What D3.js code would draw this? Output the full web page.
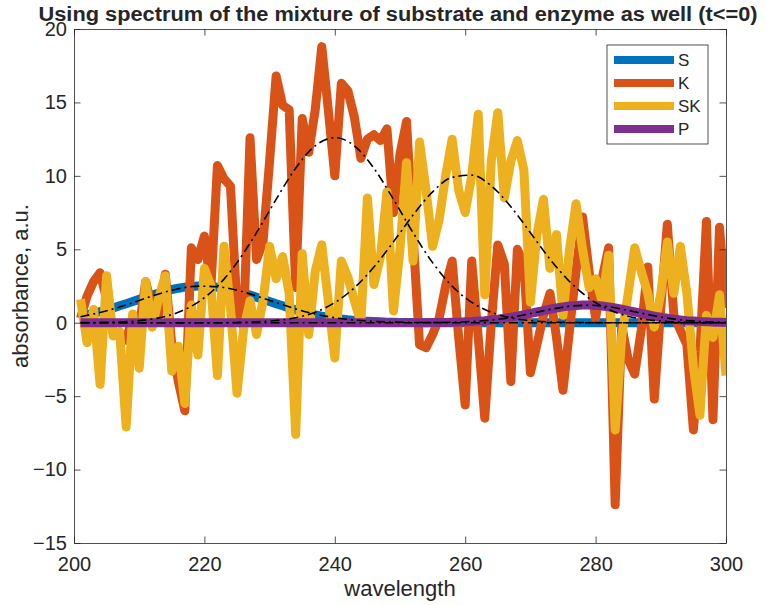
<!DOCTYPE html>
<html>
<head>
<meta charset="utf-8">
<script src="https://cdn.jsdelivr.net/npm/d3@7"></script>
<style>
  html, body { margin: 0; padding: 0; background: #ffffff; }
  svg { display: block; }
  text { font-family: 'Liberation Sans', Arial, Helvetica, sans-serif; fill: #262626; }
</style>
</head>
<body>
<div id="chart"></div>
<script>
// sample grid of the measured spectra (nm)
const wavelength = d3.range(201, 301);

// S: substrate spectrum (smooth)
const sValues = [
  0.45, 0.54, 0.64, 0.75, 0.87, 1.00, 1.15, 1.29, 1.44, 1.59,
  1.74, 1.89, 2.02, 2.15, 2.26, 2.35, 2.42, 2.47, 2.50, 2.50,
  2.47, 2.42, 2.35, 2.26, 2.15, 2.02, 1.89, 1.74, 1.59, 1.44,
  1.29, 1.15, 1.00, 0.87, 0.75, 0.64, 0.54, 0.45, 0.37, 0.31,
  0.25, 0.20, 0.16, 0.12, 0.10, 0.08, 0.06, 0.04, 0.03, 0.02,
  0.02, 0.01, 0.01, 0, 0, 0, 0, 0, 0, 0,
  0, 0, 0, 0, 0, 0, 0, 0, 0, 0,
  0, 0, 0, 0, 0, 0, 0, 0, 0, 0,
  0, 0, 0, 0, 0, 0, 0, 0, 0, 0,
  0, 0, 0, 0, 0, 0, 0, 0, 0, 0
];

// K: enzyme spectrum (noisy)
const kValues = [
  0.3, 1.8, 2.8, 3.4, 1.6, -0.7, -0.9, -1.2, 0.4, -0.3,
  2.8, 1.0, 0.5, 3.3, -1.5, -4.0, -6.0, 5.1, 4.3, 5.9,
  2.4, 10.7, 9.8, 9.3, 1.0, -0.3, 12.6, 4.3, 5.5, 11.0,
  16.8, 14.8, 14.5, 2.4, 13.9, 11.6, 14.5, 18.8, 14.5, 10.0,
  16.3, 15.8, 14.0, 11.2, 12.5, 12.8, 12.4, 13.2, 7.5, 11.5,
  13.7, 6.0, -1.5, -1.7, -0.8, 0.3, 2.5, 4.2, -1.0, -5.6,
  4.2, -1.0, -6.5, 0.0, 5.3, 4.0, -4.0, 5.0, 4.0, -3.4,
  -1.5, 0.5, 2.0, -1.0, -4.6, -0.5, 3.5, 7.2, 3.5, 0.3,
  3.0, 5.1, -12.4, -0.2, -2.5, -3.5, -0.5, 3.8, -5.2, 1.0,
  6.7, 0.5, -0.5, -1.5, -7.3, -2.0, 6.9, -6.6, 6.5, 1.0
];

// SK: substrate-enzyme complex spectrum (noisy)
const skValues = [
  1.6, -1.35, 0.9, -4.2, 3.2, -0.9, -0.6, -7.1, 0.6, -3.1,
  2.8, -0.3, 1.7, 3.2, -3.3, -1.6, -5.5, 1.2, -2.2, 3.7,
  2.5, -3.6, 5.2, 1.0, -4.8, -0.5, 1.5, -0.8, 1.5, 5.2,
  3.0, 4.5, 2.0, -7.6, 4.7, -0.8, 3.5, 5.3, 1.5, -2.4,
  4.2, 3.1, 1.5, 0.0, 8.5, 2.6, 4.5, 8.9, 0.8, 5.0,
  10.9, 4.2, 12.3, 9.0, 5.2, 7.0, 10.0, 12.5, 9.0, 7.5,
  10.0, 14.2, 1.9, 11.0, 14.3, 8.5, 11.0, 12.4, 10.4, 1.4,
  6.0, 8.4, 3.7, 6.0, 0.5, 5.0, 8.1, 5.0, 2.4, 3.0,
  1.5, 4.6, -7.3, -1.0, 2.0, 5.1, 3.5, 2.0, -0.3, 2.0,
  5.5, 2.0, 5.2, 2.0, -3.0, -6.3, 0.5, -1.0, 1.9, -3.6
];

// P: product spectrum (smooth)
const pValues = [
  0, 0, 0, 0, 0, 0, 0, 0, 0, 0,
  0, 0, 0, 0, 0, 0, 0, 0, 0, 0,
  0, 0, 0, 0, 0, 0, 0, 0, 0, 0,
  0, 0, 0, 0, 0, 0, 0, 0, 0, 0,
  0, 0, 0, 0, 0, 0, 0, 0, 0, 0,
  0, 0, 0, 0, 0.01, 0.01, 0.02, 0.03, 0.04, 0.06,
  0.08, 0.11, 0.14, 0.19, 0.24, 0.30, 0.37, 0.45, 0.54, 0.63,
  0.73, 0.82, 0.92, 1.00, 1.08, 1.14, 1.18, 1.20, 1.20, 1.18,
  1.14, 1.08, 1.00, 0.92, 0.82, 0.73, 0.63, 0.54, 0.45, 0.37,
  0.30, 0.24, 0.19, 0.14, 0.11, 0.08, 0.06, 0.04, 0.03, 0.02
];

// fitted component curves (dash-dot), sampled every 3 nm
const fitWavelength = [201, 204, 207, 210, 213, 216, 219, 222, 225, 228, 231, 234, 237, 240, 243, 246, 249,
  252, 255, 258, 261, 264, 267, 270, 273, 276, 279, 282, 285, 288, 291, 294, 297, 300];
const sFit = [0.41, 0.70, 1.07, 1.52, 1.96, 2.31, 2.49, 2.45, 2.21, 1.82, 1.37, 0.94, 0.59, 0.34, 0.18, 0.09, 0.04,
  0.02, 0.01, 0, 0, 0, 0, 0, 0, 0, 0, 0, 0, 0, 0, 0, 0, 0];
const kFit = [0.01, 0.02, 0.05, 0.14, 0.33, 0.71, 1.39, 2.49, 4.09, 6.13, 8.40, 10.52, 12.05, 12.6, 12.05, 10.52, 8.40,
  6.13, 4.09, 2.49, 1.39, 0.71, 0.33, 0.14, 0.05, 0.02, 0.01, 0, 0, 0, 0, 0, 0, 0];
const skFit = [0, 0, 0, 0, 0, 0, 0, 0, 0.02, 0.06, 0.15, 0.34, 0.72, 1.37, 2.38, 3.79, 5.51,
  7.33, 8.91, 9.90, 10.05, 9.32, 7.90, 6.13, 4.33, 2.81, 1.66, 0.90, 0.44, 0.20, 0.08, 0.03, 0.01, 0];
const pFit = [0, 0, 0, 0, 0, 0, 0, 0, 0, 0, 0, 0, 0, 0, 0, 0, 0,
  0, 0.01, 0.03, 0.08, 0.18, 0.36, 0.62, 0.90, 1.12, 1.19, 1.09, 0.84, 0.56, 0.31, 0.15, 0.06, 0.02];

const seriesNames = ['S', 'K', 'SK', 'P'];
const xTicks = [200, 220, 240, 260, 280, 300];
const yTicks = [-15, -10, -5, 0, 5, 10, 15, 20];

(function () {
  'use strict';

  const width = 767;
  const height = 605;
  const margin = { top: 29, right: 41, bottom: 62, left: 74 };
  const innerWidth = width - margin.left - margin.right;
  const innerHeight = height - margin.top - margin.bottom;

  // MATLAB default line colours
  const colors = ['#0072BD', '#D95319', '#EDB120', '#7E2F8E'];
  const axisColor = '#262626';

  const svg = d3.select('#chart')
    .append('svg')
    .attr('width', width)
    .attr('height', height);

  svg.append('rect')
    .attr('width', width)
    .attr('height', height)
    .attr('fill', '#ffffff');

  const g = svg.append('g')
    .attr('transform', `translate(${margin.left},${margin.top})`);

  // Scales
  const x = d3.scaleLinear().domain([200, 300]).range([0, innerWidth]);
  const y = d3.scaleLinear().domain([-15, 20]).range([innerHeight, 0]);

  g.append('clipPath')
    .attr('id', 'plot-clip')
    .append('rect')
    .attr('width', innerWidth)
    .attr('height', innerHeight);

  const plot = g.append('g').attr('clip-path', 'url(#plot-clip)');

  // Thick data lines
  const dataSeries = [sValues, kValues, skValues, pValues];
  const line = d3.line()
    .x(d => x(d[0]))
    .y(d => y(d[1]));

  dataSeries.forEach((vals, i) => {
    plot.append('path')
      .datum(wavelength.map((w, j) => [w, vals[j]]))
      .attr('fill', 'none')
      .attr('stroke', colors[i])
      .attr('stroke-width', 9)
      .attr('stroke-linejoin', 'round')
      .attr('stroke-linecap', 'butt')
      .attr('d', line);
  });

  // Fitted components, black dash-dot
  const fitLine = d3.line()
    .x(d => x(d[0]))
    .y(d => y(d[1]))
    .curve(d3.curveMonotoneX);

  [sFit, kFit, skFit, pFit].forEach(vals => {
    plot.append('path')
      .datum(fitWavelength.map((w, j) => [w, vals[j]]))
      .attr('fill', 'none')
      .attr('stroke', '#000000')
      .attr('stroke-width', 1.6)
      .attr('stroke-dasharray', '9,4,2,4')
      .attr('d', fitLine);
  });

  // Axes: ticks point inwards on all four sides (box on)
  const styleAxis = sel => {
    sel.select('.domain').attr('stroke', axisColor).attr('stroke-width', 0.8);
    sel.selectAll('.tick line').attr('stroke', axisColor).attr('stroke-width', 0.8);
    sel.selectAll('.tick text')
      .attr('fill', axisColor)
      .attr('font-size', '20px')
      .attr('font-family', "'Liberation Sans', Arial, sans-serif");
  };

  g.append('g')
    .attr('transform', `translate(0,${innerHeight})`)
    .call(d3.axisBottom(x).tickValues(xTicks).tickSize(-6.5).tickSizeOuter(0).tickPadding(14))
    .call(styleAxis);

  g.append('g')
    .call(d3.axisTop(x).tickValues(xTicks).tickSize(-6.5).tickSizeOuter(0).tickFormat(''))
    .call(styleAxis);

  g.append('g')
    .call(d3.axisLeft(y).tickValues(yTicks).tickSize(-6.5).tickSizeOuter(0).tickPadding(7))
    .call(styleAxis);

  g.append('g')
    .attr('transform', `translate(${innerWidth},0)`)
    .call(d3.axisRight(y).tickValues(yTicks).tickSize(-6.5).tickSizeOuter(0).tickFormat(''))
    .call(styleAxis);

  // Title and axis labels
  svg.append('text')
    .attr('x', 398)
    .attr('y', 21)
    .attr('text-anchor', 'middle')
    .attr('font-size', '20px')
    .attr('font-weight', 'bold')
    .attr('fill', '#000000')
    .attr('textLength', 719)
    .attr('lengthAdjust', 'spacingAndGlyphs')
    .text('Using spectrum of the mixture of substrate and enzyme as well (t<=0)');

  svg.append('text')
    .attr('x', margin.left + innerWidth / 2)
    .attr('y', 596)
    .attr('text-anchor', 'middle')
    .attr('font-size', '22px')
    .text('wavelength');

  svg.append('text')
    .attr('transform', `translate(28,${margin.top + innerHeight / 2}) rotate(-90)`)
    .attr('text-anchor', 'middle')
    .attr('font-size', '22px')
    .text('absorbance, a.u.');

  // Legend
  const legend = svg.append('g').attr('transform', 'translate(607,45)');

  legend.append('rect')
    .attr('width', 101)
    .attr('height', 99)
    .attr('fill', '#ffffff')
    .attr('stroke', axisColor)
    .attr('stroke-width', 0.8);

  const rowY = d3.scalePoint().domain(seriesNames).range([15, 84]);

  seriesNames.forEach((name, i) => {
    legend.append('line')
      .attr('x1', 7)
      .attr('x2', 67)
      .attr('y1', rowY(name))
      .attr('y2', rowY(name))
      .attr('stroke', colors[i])
      .attr('stroke-width', 8);

    legend.append('text')
      .attr('x', 71)
      .attr('y', rowY(name))
      .attr('dy', '0.35em')
      .attr('font-size', '17px')
      .text(name);
  });
})();
</script>
</body>
</html>
